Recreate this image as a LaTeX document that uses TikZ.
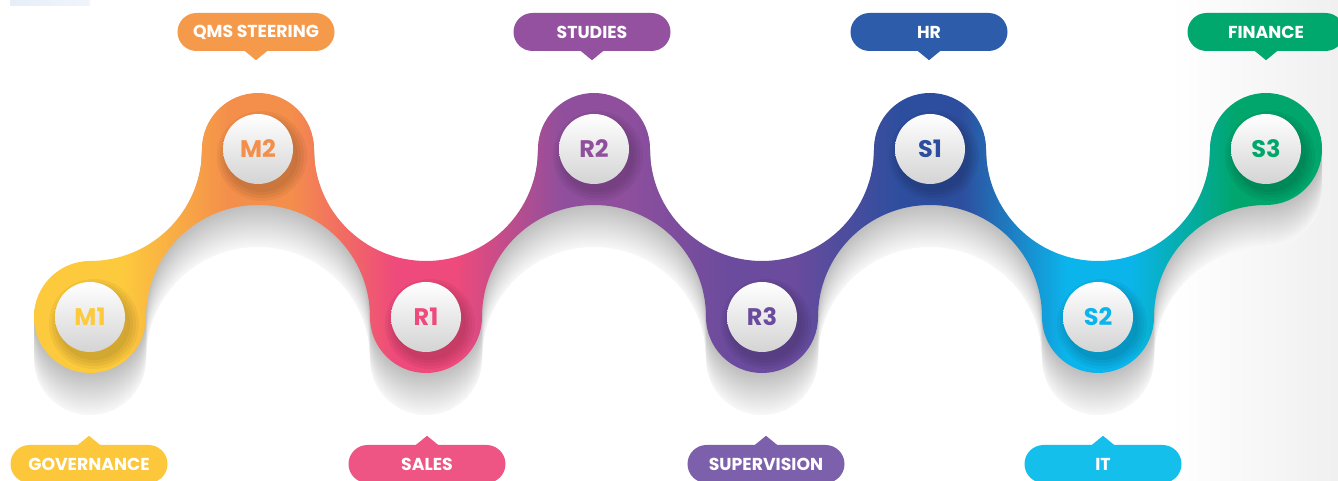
\documentclass[tikz,border=0pt]{standalone}
\usepackage{fontspec}
\setmainfont{Poppins}
\definecolor{cM1}{HTML}{FDCA3D}
\definecolor{cM2}{HTML}{F48F4B}
\definecolor{cR1}{HTML}{EE4A7B}
\definecolor{cR2}{HTML}{8F4F9D}
\definecolor{cR3}{HTML}{6A4B9D}
\definecolor{cS1}{HTML}{2D4E9E}
\definecolor{cS2}{HTML}{0BB5EC}
\definecolor{cS3}{HTML}{00A66C}
\definecolor{lM1}{HTML}{FCC73B}
\definecolor{lM2}{HTML}{F59A4B}
\definecolor{lR1}{HTML}{EE5584}
\definecolor{lR2}{HTML}{93519F}
\definecolor{lR3}{HTML}{7D60AB}
\definecolor{lS1}{HTML}{2C5CAA}
\definecolor{lS2}{HTML}{15BFEC}
\definecolor{lS3}{HTML}{00A86E}
\definecolor{topart}{HTML}{E6EEF8}
\pgfdeclarehorizontalshading{bandshade}{100bp}{color(0bp)=(cM1); color(28.4bp)=(cM1);
 color(32.5bp)=(cM2); color(34.9bp)=(cM2);
 color(39.0bp)=(cR1); color(41.4bp)=(cR1);
 color(45.5bp)=(cR2); color(47.9bp)=(cR2);
 color(52.1bp)=(cR3); color(54.5bp)=(cR3);
 color(58.6bp)=(cS1); color(61.0bp)=(cS1);
 color(65.1bp)=(cS2); color(67.5bp)=(cS2);
 color(71.6bp)=(cS3); color(100bp)=(cS3)}
\newcommand\drawband[1]{%
 \path[#1] (34,164)
  arc[start angle=180,end angle=90,radius=56]
  arc[start angle=270,end angle=360,radius=112]
  arc[start angle=180,end angle=0,radius=56]
  arc[start angle=180,end angle=360,radius=112]
  arc[start angle=180,end angle=0,radius=56]
  arc[start angle=180,end angle=360,radius=112]
  arc[start angle=180,end angle=0,radius=56]
  arc[start angle=180,end angle=360,radius=112]
  arc[start angle=180,end angle=0,radius=56]
  arc[start angle=0,end angle=-90,radius=56]
  arc[start angle=90,end angle=180,radius=112]
  arc[start angle=0,end angle=-180,radius=56]
  arc[start angle=0,end angle=180,radius=112]
  arc[start angle=0,end angle=-180,radius=56]
  arc[start angle=0,end angle=180,radius=112]
  arc[start angle=0,end angle=-180,radius=56]
  arc[start angle=0,end angle=180,radius=112]
  arc[start angle=0,end angle=-180,radius=56]
  -- cycle;}
\tikzset{
 dot/.style={circle, minimum size=70pt, inner sep=0pt, top color=white, bottom color=black!17,
   font=\bfseries\fontsize{24}{27}\selectfont},
 pill/.style={rectangle, rounded corners=19pt, minimum width=157pt, minimum height=38pt,
   inner sep=0pt, text=white, font=\bfseries\fontsize{17.3}{20}\selectfont},
}
\begin{document}
\begin{tikzpicture}[x=1pt,y=1pt]
\useasboundingbox (0,0) rectangle (1338,481);
\fill[white] (0,0) rectangle (1338,481);
\shade[left color=white, right color=black!6] (1170,0) rectangle (1338,481);
\shade[left color=topart, right color=topart!60] (10,475) rectangle (90,481);
% shadow
\foreach \k in {42,41,...,1}{
  \pgfmathsetmacro\g{3+22*(42-\k)/41}
  \begin{scope}[yshift=-\k]
    \drawband{fill=black!\g}
  \end{scope}
}
% band
\drawband{shading=bandshade}
% node positions
\coordinate (pM1) at (90,164);
\coordinate (pM2) at (258,332);
\coordinate (pR1) at (426,164);
\coordinate (pR2) at (594,332);
\coordinate (pR3) at (762,164);
\coordinate (pS1) at (930,332);
\coordinate (pS2) at (1098,164);
\coordinate (pS3) at (1266,332);
\foreach \p in {pM1,pM2,pR1,pR2,pR3,pS1,pS2,pS3}{
  \foreach \r in {36,39,...,47}{
    \fill[black,opacity=0.045] ([shift={(4,-7)}]\p) circle[radius=\r];
  }
}
\node[dot, text=cM1] (M1) at (pM1) {M1};
\node[dot, text=cM2] (M2) at (pM2) {M2};
\node[dot, text=cR1] (R1) at (pR1) {R1};
\node[dot, text=cR2] (R2) at (pR2) {R2};
\node[dot, text=cR3] (R3) at (pR3) {R3};
\node[dot, text=cS1] (S1) at (pS1) {S1};
\node[dot, text=cS2] (S2) at (pS2) {S2};
\node[dot, text=cS3] (S3) at (pS3) {S3};
% top labels
\node[pill, fill=lM2] (QMS) at (256,449) {QMS STEERING};
\node[pill, fill=lR2] (STU) at (592,449) {STUDIES};
\node[pill, fill=lS1] (HR) at (929,449) {HR};
\node[pill, fill=lS3] (FIN) at (1266,449) {FINANCE};
\foreach \n/\c in {QMS/lM2,STU/lR2,HR/lS1,FIN/lS3}{
  \fill[\c] ([xshift=-11]\n.south) -- ([yshift=-9]\n.south) -- ([xshift=11]\n.south) -- cycle;
}
% bottom labels
\node[pill, fill=lM1] (GOV) at (89,17) {GOVERNANCE};
\node[pill, fill=lR1] (SAL) at (427,17) {SALES};
\node[pill, fill=lR3] (SUP) at (766,17) {SUPERVISION};
\node[pill, fill=lS2] (IT) at (1103,17) {IT};
\foreach \n/\c in {GOV/lM1,SAL/lR1,SUP/lR3,IT/lS2}{
  \fill[\c] ([xshift=-11]\n.north) -- ([yshift=9]\n.north) -- ([xshift=11]\n.north) -- cycle;
}
\end{tikzpicture}
\end{document}
